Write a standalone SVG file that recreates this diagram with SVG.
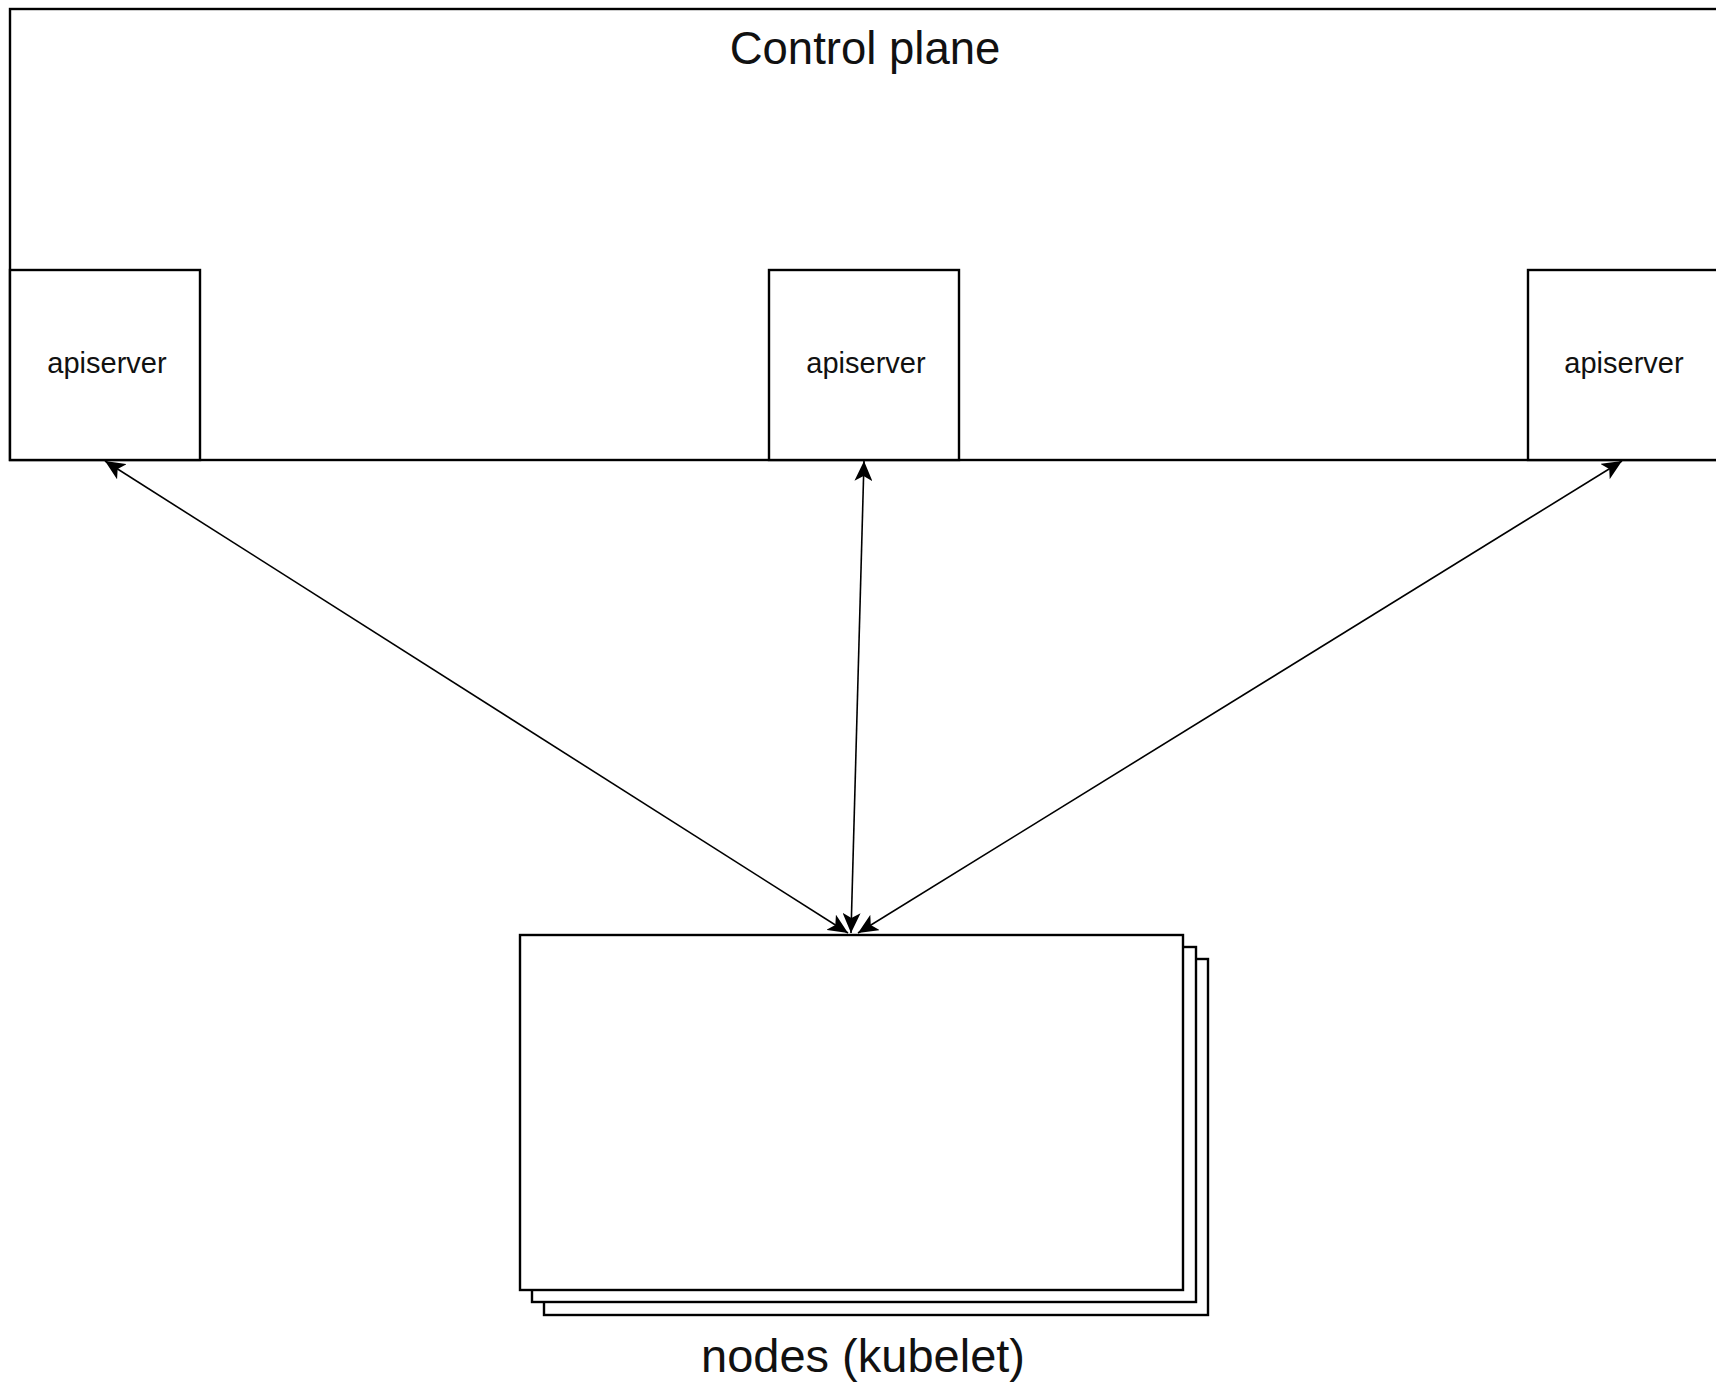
<svg xmlns="http://www.w3.org/2000/svg" width="1716" height="1384" viewBox="0 0 1716 1384">
<style>
.box{fill:#ffffff;stroke:#000000;stroke-width:2.4}
.lbl{font-family:"Liberation Sans",Arial,sans-serif;fill:#111111;text-anchor:middle}
.conn{fill:none;stroke:#000000;stroke-width:1.6}
</style>
<defs>
<marker id="arr" viewBox="0 0 20 18" refX="20" refY="9" markerWidth="20" markerHeight="18" markerUnits="userSpaceOnUse" orient="auto-start-reverse">
<path d="M0,0 L20,9 L0,18 L5,9 Z" fill="#000000"/>
</marker>
</defs>
<rect width="1716" height="1384" fill="#ffffff"/>
<g id="control-plane">
<rect class="box" x="10" y="9" width="1712" height="451"/>
<text class="lbl" x="865" y="64" font-size="45.5">Control plane</text>
</g>
<g id="apiserver-1">
<rect class="box" x="10" y="270" width="190" height="190"/>
<text class="lbl" x="107" y="373" font-size="29">apiserver</text>
</g>
<g id="apiserver-2">
<rect class="box" x="769" y="270" width="190" height="190"/>
<text class="lbl" x="866" y="373" font-size="29">apiserver</text>
</g>
<g id="apiserver-3">
<rect class="box" x="1528" y="270" width="192" height="190"/>
<text class="lbl" x="1624" y="373" font-size="29">apiserver</text>
</g>
<g id="nodes">
<rect class="box" x="544" y="959" width="664" height="356"/>
<rect class="box" x="532" y="947" width="664" height="355"/>
<rect class="box" x="520" y="935" width="663" height="355"/>
<text class="lbl" x="863" y="1372" font-size="47">nodes (kubelet)</text>
</g>
<g id="connectors">
<line class="conn" x1="105" y1="461" x2="848" y2="933" marker-start="url(#arr)" marker-end="url(#arr)"/>
<line class="conn" x1="864" y1="461" x2="851" y2="933" marker-start="url(#arr)" marker-end="url(#arr)"/>
<line class="conn" x1="1622" y1="461" x2="858" y2="933" marker-start="url(#arr)" marker-end="url(#arr)"/>
</g>
</svg>
